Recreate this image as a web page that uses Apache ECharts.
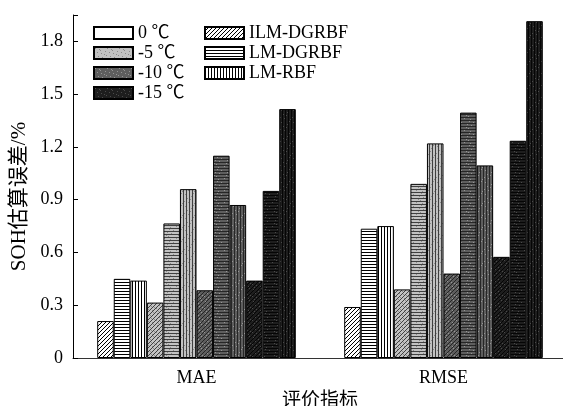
<!DOCTYPE html>
<html>
<head>
<meta charset="utf-8">
<script src="https://cdn.jsdelivr.net/npm/echarts@6/dist/echarts.min.js"></script>
<style>
html,body{margin:0;padding:0;background:#fff;}
#c{width:563px;height:406px;}
</style>
</head>
<body>
<div id="c"></div>
<script>
const categories = ['MAE', 'RMSE'];
const temps = ['0 ℃', '-5 ℃', '-10 ℃', '-15 ℃'];
const methods = ['ILM-DGRBF', 'LM-DGRBF', 'LM-RBF'];
// values in order: temp 0 (ILM, LM-DG, LM-RBF), temp -5 (...), temp -10 (...), temp -15 (...)
const maeValues = [0.21, 0.45, 0.44, 0.315, 0.765, 0.96, 0.385, 1.15, 0.87, 0.44, 0.95, 1.415];
const rmseValues = [0.29, 0.735, 0.75, 0.39, 0.99, 1.22, 0.48, 1.395, 1.095, 0.575, 1.235, 1.915];

const tempBg = ['#ffffff', '#c2c2c2', '#5e5e5e', '#1e1e1e'];
const tempSpeck = [null, '#8a8a8a', '#959595', '#4a4a4a'];
const tempFg = ['#000000', '#404040', '#262626', '#050505'];
const methodKind = ['diag', 'hor', 'ver', 'none'];

// fixed speckle positions within a 12x12 tile (texture only)
const speck = [[1,1],[5,2],[9,0],[3,5],[7,6],[11,4],[0,8],[4,9],[8,10],[10,7],[2,11],[6,3]];

function makePattern(bg, kind, fg, sp) {
  const c = document.createElement('canvas');
  const w = 12, h = 12;
  c.width = w; c.height = h;
  const ctx = c.getContext('2d');
  ctx.fillStyle = bg; ctx.fillRect(0, 0, w, h);
  if (sp) { ctx.fillStyle = sp; speck.forEach(p => ctx.fillRect(p[0], p[1], 1, 1)); }
  ctx.fillStyle = fg;
  if (kind === 'hor') { for (let y = 0; y < h; y += 3) ctx.fillRect(0, y, w, 1); }
  else if (kind === 'ver') { for (let x = 0; x < w; x += 3) ctx.fillRect(x, 0, 1, h); }
  else if (kind === 'diag') {
    for (let x = 0; x < w; x++) for (let y = 0; y < h; y++) if ((x + y) % 4 === 3) ctx.fillRect(x, y, 1, 1);
  }
  return { image: c, repeat: 'repeat' };
}

const FONT = "'Liberation Serif', 'Noto Sans CJK SC', serif";
const series = [];
for (let t = 0; t < temps.length; t++) {
  for (let m = 0; m < methods.length; m++) {
    const idx = t * 3 + m;
    series.push({
      type: 'bar',
      name: temps[t] + ' ' + methods[m],
      data: [maeValues[idx], rmseValues[idx]],
      barGap: '0%',
      barCategoryGap: '19.6%',
      itemStyle: { color: makePattern(tempBg[t], methodKind[m], tempFg[t], tempSpeck[t]), borderColor: '#000', borderWidth: 1 },
      emphasis: { disabled: true },
      silent: true
    });
  }
}
// legend-only series
temps.forEach((t, i) => series.push({ type: 'scatter', name: t, data: [], itemStyle: { opacity: 1, color: makePattern(tempBg[i], 'none', '#000', tempSpeck[i]), borderColor: '#000', borderWidth: 1 } }));
methods.forEach((m, i) => series.push({ type: 'scatter', name: m, data: [], itemStyle: { opacity: 1, color: makePattern('#ffffff', methodKind[i], '#000', null), borderColor: '#000', borderWidth: 1 } }));

const legendCommon = {
  orient: 'vertical', icon: 'rect', itemWidth: 39, itemHeight: 12, itemGap: 2,
  textStyle: { fontFamily: FONT, fontSize: 18, color: '#000' }, selectedMode: false
};

const chart = echarts.init(document.getElementById('c'), null, { renderer: 'canvas' });
chart.setOption({
  animation: false,
  backgroundColor: '#fff',
  grid: { left: 73, right: -4, top: 15, bottom: 48, outerBoundsMode: 'none', containLabel: false },
  legend: [
    Object.assign({ left: 88, top: 19, data: temps }, legendCommon),
    Object.assign({ left: 199, top: 19, data: methods }, legendCommon)
  ],
  xAxis: {
    type: 'category', data: categories,
    name: '评价指标', nameLocation: 'middle', nameGap: 29,
    nameTextStyle: { fontFamily: FONT, fontSize: 19, color: '#000' },
    axisLine: { lineStyle: { color: '#333', width: 1 } },
    axisTick: { show: false },
    axisLabel: { fontFamily: FONT, fontSize: 18, color: '#000', margin: 11 }
  },
  yAxis: {
    type: 'value', min: 0, max: 1.95, interval: 0.3,
    name: 'SOH估算误差/%', nameLocation: 'middle', nameGap: 37, nameRotate: 90,
    nameTextStyle: { fontFamily: FONT, fontSize: 21, color: '#000', padding: [0, 20, 0, 0] },
    splitLine: { show: false },
    axisLine: { show: true, lineStyle: { color: '#000', width: 1 } },
    axisTick: { show: true, inside: true, length: 5, lineStyle: { color: '#000' } },
    axisLabel: {
      fontFamily: FONT, fontSize: 18, color: '#000', margin: 10,
      formatter: v => (Math.abs(v / 0.3 - Math.round(v / 0.3)) < 1e-6) ? String(+v.toFixed(1)) : ''
    }
  },
  series: series
});
</script>
</body>
</html>
